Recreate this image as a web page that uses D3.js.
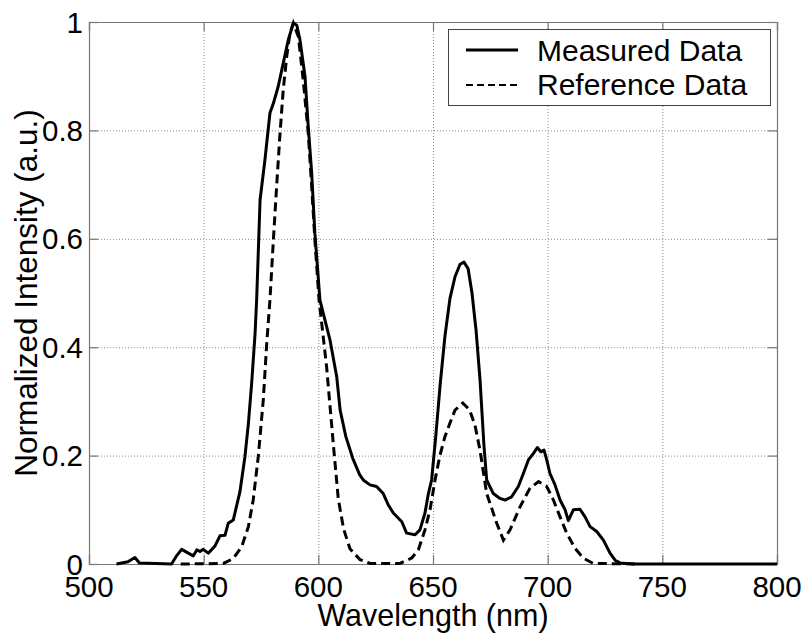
<!DOCTYPE html>
<html>
<head>
<meta charset="utf-8">
<script src="https://cdn.jsdelivr.net/npm/d3@7"></script>
<style>
  body { margin: 0; background: #fff; }
  text { font-family: "Liberation Sans", Arial, Helvetica, sans-serif; fill: #000; }
</style>
</head>
<body>
<div id="chart"></div>
<script>

// measured spectrum (solid)
var measuredWl = [512, 517, 520, 522, 536, 538, 540.4, 543.3, 545.5, 547, 548.4, 549.8, 552, 554.9,
	557.1, 559.3, 560.7, 562.9, 565.8, 568, 569.5, 570.9, 572.4, 573.1, 574.6, 576.7, 578.9, 580.4,
	582.5, 584.7, 586.9, 589.1, 590.6, 592, 594.2, 595.6, 597.1, 598.5, 600.7, 605.1, 608, 609.5,
	612, 615, 618, 619.6, 622.5, 625.4, 628.3, 630.5, 632.7, 636.4, 638.5, 642.2, 644.3, 646.5,
	648, 649.4, 651.3, 653.1, 655.2, 657.4, 659.6, 661.8, 663.5, 665.3, 667, 668.8, 670.5, 672.2,
	673.4, 676.3, 679.2, 681.4, 684.3, 687.2, 689.4, 691.6, 693.8, 695.5, 697, 698.4, 699.6, 701,
	703.2, 705.4, 707.6, 709, 711.2, 714.1, 716.3, 718.5, 721.4, 724.3, 727.2, 729.4, 731.6, 737.4, 800]
var measuredVal = [0, 0.004, 0.012, 0.002, 0, 0.014, 0.027, 0.020, 0.015, 0.026, 0.023, 0.027, 0.020, 0.033,
	0.052, 0.053, 0.075, 0.081, 0.133, 0.198, 0.259, 0.332, 0.424, 0.487, 0.672, 0.745, 0.832, 0.850,
	0.881, 0.924, 0.967, 0.998, 0.994, 0.967, 0.899, 0.807, 0.721, 0.610, 0.487, 0.413, 0.346, 0.284,
	0.235, 0.195, 0.165, 0.155, 0.146, 0.143, 0.130, 0.109, 0.094, 0.078, 0.057, 0.054, 0.063, 0.094,
	0.130, 0.155, 0.24, 0.33, 0.42, 0.49, 0.53, 0.553, 0.557, 0.545, 0.50, 0.43, 0.34, 0.22,
	0.155, 0.130, 0.121, 0.118, 0.124, 0.143, 0.167, 0.192, 0.204, 0.215, 0.207, 0.210, 0.192, 0.167,
	0.146, 0.118, 0.100, 0.080, 0.100, 0.101, 0.087, 0.069, 0.060, 0.044, 0.020, 0.007, 0.002, 0, 0]

// reference spectrum (dashed)
var referenceWl = [540, 558.6, 562.9, 566.6, 569.5, 571.6, 573.8, 576, 577.5, 578.9, 580.4, 581.8, 583.3,
	584.7, 586.2, 587.6, 589.1, 591.3, 593.4, 595.6, 597.1, 598.5, 600.3, 603.6, 606.5, 608.7, 611,
	613.8, 618.2, 622.5, 635.6, 640.7, 643.6, 646.5, 648.7, 650.9, 653, 655.2, 657.4, 659.6, 663,
	666, 668.3, 670.5, 673.4, 677.8, 680.7, 683.6, 688, 692.3, 696, 699.6, 702.5, 705.4, 708.3,
	711.9, 715.5, 719.9, 740]
var referenceVal = [0, 0.001, 0.010, 0.032, 0.069, 0.118, 0.198, 0.303, 0.407, 0.487, 0.598, 0.696, 0.795,
	0.875, 0.936, 0.979, 0.998, 0.973, 0.893, 0.795, 0.696, 0.598, 0.488, 0.364, 0.223, 0.120, 0.065,
	0.028, 0.008, 0.001, 0.001, 0.011, 0.026, 0.063, 0.100, 0.155, 0.20, 0.235, 0.260, 0.284, 0.297,
	0.284, 0.256, 0.21, 0.130, 0.075, 0.044, 0.063, 0.106, 0.140, 0.152, 0.143, 0.118, 0.087, 0.057,
	0.029, 0.011, 0.001, 0]

var xTicks = [500, 550, 600, 650, 700, 750, 800]
var yTicks = [0, 0.2, 0.4, 0.6, 0.8, 1]
var yTickLabels = ["0", "0.2", "0.4", "0.6", "0.8", "1"]
var legendLabels = ["Measured Data", "Reference Data"]

var width = 809
var height = 640
var margin = { top: 22, right: 32, bottom: 76, left: 89 }

var x = d3.scaleLinear().domain([500, 800]).range([margin.left, width - margin.right])
var y = d3.scaleLinear().domain([0, 1]).range([height - margin.bottom, margin.top])

var svg = d3.select("#chart")
	.append("svg")
	.attr("width", width)
	.attr("height", height)

// grid lines
svg.append("g")
	.attr("stroke", "#8a8a8a")
	.attr("stroke-width", 1)
	.style("stroke-dasharray", "1, 2")
	.call(g => g.selectAll("line.gx")
		.data(xTicks.slice(1, -1))
		.join("line")
		.attr("class", "gx")
		.attr("x1", d => x(d) + 0.5).attr("x2", d => x(d) + 0.5)
		.attr("y1", y(1)).attr("y2", y(0)))
	.call(g => g.selectAll("line.gy")
		.data(yTicks.slice(1, -1))
		.join("line")
		.attr("class", "gy")
		.attr("x1", x(500)).attr("x2", x(800))
		.attr("y1", d => y(d) + 0.5).attr("y2", d => y(d) + 0.5))

// axes: inward ticks on all sides, matlab style
var tickLen = 9

svg.append("g")
	.attr("transform", `translate(0,${y(0)})`)
	.call(d3.axisBottom(x).tickValues(xTicks).tickSize(-tickLen).tickFormat(""))
svg.append("g")
	.attr("transform", `translate(0,${y(1)})`)
	.call(d3.axisTop(x).tickValues(xTicks).tickSize(-tickLen).tickFormat(""))
svg.append("g")
	.attr("transform", `translate(${x(500)},0)`)
	.call(d3.axisLeft(y).tickValues(yTicks).tickSize(-tickLen).tickFormat(""))
svg.append("g")
	.attr("transform", `translate(${x(800)},0)`)
	.call(d3.axisRight(y).tickValues(yTicks).tickSize(-tickLen).tickFormat(""))

svg.selectAll(".domain, .tick line").attr("stroke", "#777").attr("stroke-width", 1.2)

// tick labels
svg.append("g")
	.attr("font-size", 29.5)
	.attr("text-anchor", "middle")
	.selectAll("text")
	.data(xTicks)
	.join("text")
	.attr("x", d => x(d))
	.attr("y", 597)
	.text(d => d)

svg.append("g")
	.attr("font-size", 29.5)
	.attr("text-anchor", "end")
	.selectAll("text")
	.data(yTicks)
	.join("text")
	.attr("x", x(500) - 6)
	.attr("y", d => y(d) + 10.5)
	.text((d, i) => yTickLabels[i])

// axis titles
svg.append("text")
	.attr("font-size", 30.5)
	.attr("text-anchor", "middle")
	.attr("x", (x(500) + x(800)) / 2)
	.attr("y", 626)
	.text("Wavelength (nm)")

svg.append("text")
	.attr("font-size", 31.5)
	.attr("text-anchor", "middle")
	.attr("transform", `translate(37,${(y(0) + y(1)) / 2}) rotate(-90)`)
	.text("Normalized Intensity (a.u.)")

// curves
var line = d3.line()
	.x(d => x(d[0]))
	.y(d => y(d[1]))

svg.append("path")
	.datum(referenceWl.map((w, i) => [w, referenceVal[i]]))
	.attr("fill", "none")
	.attr("stroke", "#000")
	.attr("stroke-width", 3)
	.style("stroke-dasharray", "9, 5")
	.attr("d", line)

svg.append("path")
	.datum(measuredWl.map((w, i) => [w, measuredVal[i]]))
	.attr("fill", "none")
	.attr("stroke", "#000")
	.attr("stroke-width", 3)
	.attr("stroke-linejoin", "round")
	.attr("d", line)

// legend
var legend = svg.append("g")

legend.append("rect")
	.attr("x", 448.5)
	.attr("y", 29.5)
	.attr("width", 322)
	.attr("height", 76)
	.attr("fill", "#fff")
	.attr("stroke", "#444")
	.attr("stroke-width", 1)

legend.selectAll("line")
	.data(legendLabels)
	.join("line")
	.attr("x1", 466)
	.attr("x2", 518)
	.attr("y1", (d, i) => 50 + i * 35)
	.attr("y2", (d, i) => 50 + i * 35)
	.attr("stroke", "#000")
	.attr("stroke-width", (d, i) => i ? 2 : 3)
	.style("stroke-dasharray", (d, i) => i ? "7, 4" : null)

legend.selectAll("text")
	.data(legendLabels)
	.join("text")
	.attr("font-size", 30)
	.attr("x", 537)
	.attr("y", (d, i) => 60.5 + i * 34)
	.text(d => d)

</script>
</body>
</html>
